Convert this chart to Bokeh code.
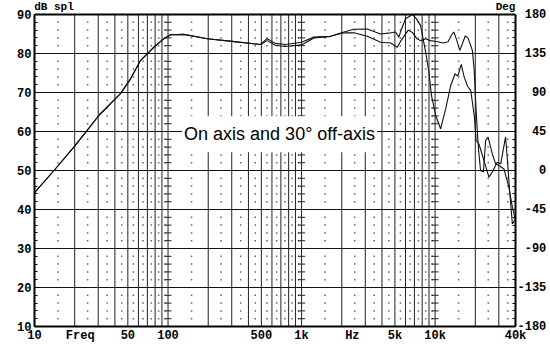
from bokeh.plotting import figure
from bokeh.models import Range1d, LinearAxis, FixedTicker, Label
from bokeh.core.properties import value
from bokeh.embed import file_html
from bokeh.resources import INLINE

# ---- data ----
freq_common = [10, 14, 19.7, 24.8, 30.3, 44, 52.4, 62.2, 78.3, 93, 104.5, 131, 197, 302, 493]
spl_common = [44.3, 50, 56, 60.3, 64.1, 69.7, 73.5, 78.2, 81.6, 83.8, 84.8, 84.9, 83.8, 83.1, 82.3]

freq_on = [552, 636, 760, 1000, 1236, 1648, 2075, 2467, 3105, 3908, 4645, 5200, 5600, 6300, 6800,
           7300, 7800, 8500, 9200, 10500, 11500, 12500, 13300, 13800, 14500, 15300, 16000, 16800,
           17600, 18500, 19000, 19600, 20100, 20700, 21200, 21900, 23000, 23900, 24900, 26800,
           28400, 30100, 32800, 35700, 37900, 40000]
spl_on = [83.3, 82.1, 81.8, 82.2, 84.0, 84.4, 85.3, 85.3, 84.4, 82.9, 82.7, 81.6, 83.5, 86.0, 85.3,
          83.8, 83.3, 83.8, 83.3, 83.0, 82.7, 83.0, 84.8, 85.5, 83.5, 80.8, 82.5, 84.5,
          84.0, 82.0, 80.8, 76.0, 68.0, 60.0, 55.0, 50.0, 49.6, 57.7, 58.6, 54.3,
          51.7, 51.3, 50.4, 45.7, 40.6, 37.2]

freq_off = [552, 636, 760, 1000, 1236, 1648, 2075, 2467, 3105, 3908, 4645, 5060, 5358, 5500, 6000,
            6780, 7200, 7780, 8500, 8990, 9400, 10100, 11000, 12000, 13100, 14100, 14800, 15700,
            16500, 17500, 18500, 19700, 20300, 21300, 23200, 25300, 26800, 29200, 31000, 33700,
            34800, 36300, 37900, 40000]
spl_off = [83.8, 82.6, 82.3, 82.9, 84.2, 84.4, 85.5, 86.2, 86.3, 85.0, 85.3, 85.5, 84.2, 85.5, 88.9,
           90.0, 89.0, 87.2, 80.3, 75.2, 69.2, 64.1, 60.7, 65.8, 71.8, 74.8, 74.2, 77.2,
           74.0, 71.6, 70.5, 63.7, 57.7, 56.8, 52.6, 48.3, 49.6, 52.1, 51.7, 58.6,
           52.6, 44.0, 36.3, 37.5]

x_label_freqs = [10, 22, 50, 100, 500, 1000, 2400, 5000, 10000, 40000]
x_label_texts = ["10", "Freq", "50", "100", "500", "1k", "Hz", "5k", "10k", "40k"]
caption_freqs = [14, 33700]
caption_texts = ["dB spl", "Deg"]

F_MIN, F_MAX = 10, 40000
SPL_MIN, SPL_MAX = 10, 90
DEG_MIN, DEG_MAX = -180, 180

spl_ticks = [10, 20, 30, 40, 50, 60, 70, 80, 90]
spl_minor = list(range(10, 91, 2))
deg_ticks = [-180, -135, -90, -45, 0, 45, 90, 135, 180]
deg_minor = list(range(-180, 181, 9))
NB = "\u00a0"
deg_labels = ["-180", "-135", NB + "-90", NB + "-45", NB * 3 + "0", NB * 2 + "45", NB * 2 + "90", NB + "135", NB + "180"]

grid_major_freqs = [m * d for d in (10, 100, 1000) for m in range(2, 10)] + [100, 1000, 10000, 20000, 30000]
grid_minor_freqs = [m * d for d in (10, 100, 1000) for m in (1.5, 2.5, 3.5, 4.5, 5.5, 6.5, 7.5, 8.5, 9.5)] + [15000, 25000, 35000]
grid_spl = [20, 30, 40, 50, 60, 70, 80]
decade_freqs = [100, 1000, 10000]
dot_levels = [v for v in range(12, 90, 2) if v % 10 != 0]

# ---- layout constants (pixels) ----
W, H = 550, 350
TOP_PAD = 14          # caption strip above the graph box
FRAME_H = 326         # frame height incl. caption strip
px_per_db = (FRAME_H - TOP_PAD) / (SPL_MAX - SPL_MIN)
spl_top = SPL_MAX + TOP_PAD / px_per_db
deg_top = DEG_MAX + (spl_top - SPL_MAX) * (DEG_MAX - DEG_MIN) / (SPL_MAX - SPL_MIN)
caption_y = SPL_MAX + 8 / px_per_db

p = figure(width=W, height=H, x_axis_type="log",
           x_range=Range1d(F_MIN, F_MAX), y_range=Range1d(SPL_MIN, spl_top),
           output_backend="svg", toolbar_location=None,
           min_border_left=34, min_border_right=35, min_border_top=0, min_border_bottom=H - FRAME_H)
p.background_fill_color = "white"
p.border_fill_color = "white"
p.outline_line_color = None

MONO = "Liberation Mono"


def style_axis(ax, standoff, size="12px"):
    ax.major_tick_out = 0
    ax.major_tick_in = 0
    ax.minor_tick_out = 0
    ax.axis_line_color = "black"
    ax.axis_line_width = 2
    ax.major_label_standoff = standoff
    ax.major_label_text_font = MONO
    ax.major_label_text_font_style = "bold"
    ax.major_label_text_font_size = size
    ax.major_label_text_color = "black"


# bottom axis
xa = p.xaxis[0]
xa.ticker = FixedTicker(ticks=x_label_freqs, minor_ticks=[])
xa.major_label_overrides = {f: t for f, t in zip(x_label_freqs, x_label_texts)}
style_axis(xa, 2)

# left axis
ya = p.yaxis[0]
ya.ticker = FixedTicker(ticks=spl_ticks, minor_ticks=spl_minor)
ya.bounds = (SPL_MIN, SPL_MAX)
style_axis(ya, 3)
ya.minor_tick_in = 3
ya.minor_tick_line_color = "black"

# right axis (degrees)
p.extra_y_ranges = {"deg": Range1d(DEG_MIN, deg_top)}
ra = LinearAxis(y_range_name="deg", ticker=FixedTicker(ticks=deg_ticks, minor_ticks=deg_minor))
ra.bounds = (DEG_MIN, DEG_MAX)
ra.major_label_overrides = {d: t for d, t in zip(deg_ticks, deg_labels)}
style_axis(ra, 2)
ra.minor_tick_in = 3
ra.minor_tick_line_color = "black"
p.add_layout(ra, "right")

# grid
p.xgrid.grid_line_color = None
p.ygrid.ticker = FixedTicker(ticks=grid_spl)
p.ygrid.grid_line_color = "#111111"
p.ygrid.grid_line_width = 1
p.segment(x0=grid_major_freqs, y0=[SPL_MIN] * len(grid_major_freqs),
          x1=grid_major_freqs, y1=[SPL_MAX] * len(grid_major_freqs),
          line_color="#222222", line_width=1)

# top edge of the graph box
p.segment(x0=[F_MIN], y0=[SPL_MAX], x1=[F_MAX], y1=[SPL_MAX], line_color="black", line_width=2)

# dotted minor grid
dot_x = [f for f in grid_minor_freqs for _ in dot_levels]
dot_y = [v for _ in grid_minor_freqs for v in dot_levels]
p.scatter(dot_x, dot_y, marker="square", size=1.5, fill_color="#666666", line_color=None)

# decade cross ticks
dec_x = [f for f in decade_freqs for _ in dot_levels]
dec_y = [v for _ in decade_freqs for v in dot_levels]
p.scatter(dec_x, dec_y, marker="dash", size=7, line_color="#222222", line_width=1)

# curves
p.line(freq_common + freq_on, spl_common + spl_on, line_color="#111111", line_width=1.1)
p.line(freq_common + freq_off, spl_common + spl_off, line_color="#111111", line_width=1.1)

# unit captions above the graph box
p.text(x=caption_freqs, y=[caption_y] * len(caption_freqs), text=caption_texts,
       text_align="center", text_baseline="middle", text_font=value(MONO),
       text_font_style="bold", text_font_size="11px", text_color="black")

# caption inside the plot
p.add_layout(Label(x=684, y=59.3, text="On axis and 30° off-axis", text_align="center",
                   text_baseline="middle", text_font="Liberation Sans", text_font_size="18px",
                   text_color="black", background_fill_color="white", padding=(2, 8)))

open("out.html", "w").write(file_html(p, INLINE))
